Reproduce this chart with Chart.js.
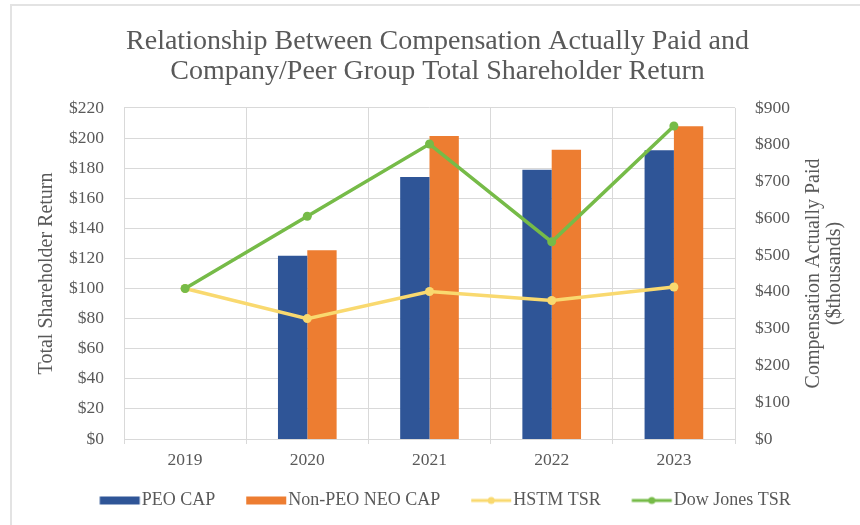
<!DOCTYPE html>
<html>
<head>
<meta charset="utf-8">
<script src="https://cdn.jsdelivr.net/npm/chart.js@4/dist/chart.umd.min.js"></script>
<style>
  html, body { margin: 0; padding: 0; background: #fff; }
  #wrap { position: relative; width: 860px; height: 525px; }
  #frame { position: absolute; left: 10px; top: 4px; right: 0; bottom: 0;
           border-top: 2px solid #e3e3e3; border-left: 2px solid #e3e3e3; pointer-events: none; }
</style>
</head>
<body>
<div id="wrap">
  <canvas id="chart" width="860" height="525"></canvas>
  <div id="frame"></div>
</div>
<script>
// data
const years = ['2019', '2020', '2021', '2022', '2023'];
const peoCap = [null, 498, 712, 732, 785];      // $ thousands, right axis
const nonPeoCap = [null, 513, 824, 786, 850];   // $ thousands, right axis
const hstmTsr = [100, 80, 98, 92, 101];         // left axis
const dowTsr = [100, 148, 196, 131, 208];       // left axis

const seriesNames = ['PEO CAP', 'Non-PEO NEO CAP', 'HSTM TSR', 'Dow Jones TSR'];
const titleLines = ['Relationship Between Compensation Actually Paid and',
                    'Company/Peer Group Total Shareholder Return'];
const leftTitle = 'Total Shareholder Return';
const rightTitle = ['Compensation Actually Paid', '($thousands)'];

const BLUE = '#2F5597', ORANGE = '#ED7D31', YELLOW = '#F9D96F', GREEN = '#76BB48';
const GREY = '#595959', GRID = '#D9D9D9';
const SERIF = "'Liberation Serif', 'Times New Roman', serif";

// legend icons (box or line with marker); the blank left part of the
// canvas gives the gap between legend entries
const ICON_BOX = 48.5;
function makeIcon(kind, color) {
  const c = document.createElement('canvas');
  c.width = 100; c.height = 14;
  const g = c.getContext('2d');
  const x0 = 50 - ICON_BOX / 2 + (ICON_BOX - 33);  // where the mark starts
  if (kind === 'bar') {
    g.fillStyle = color;
    g.fillRect(x0, 3, 40, 8);
  } else {
    g.strokeStyle = color; g.lineWidth = 3;
    g.beginPath(); g.moveTo(x0, 7); g.lineTo(x0 + 40, 7); g.stroke();
    g.fillStyle = color;
    g.beginPath(); g.arc(x0 + 20, 7, 3.5, 0, Math.PI * 2); g.fill();
  }
  return c;
}
const icons = [makeIcon('bar', BLUE), makeIcon('bar', ORANGE), makeIcon('line', YELLOW), makeIcon('line', GREEN)];

// right axis title reads bottom to top, like the left one
const sideTitle = {
  id: 'sideTitle',
  afterDraw(chart) {
    const { ctx, chartArea } = chart;
    const cy = (chartArea.top + chartArea.bottom) / 2;
    ctx.save();
    ctx.font = '20px ' + SERIF;
    ctx.fillStyle = GREY;
    ctx.textAlign = 'center';
    ctx.textBaseline = 'middle';
    rightTitle.forEach((t, i) => {
      ctx.save();
      ctx.translate(814 + i * 21, cy);
      ctx.rotate(-Math.PI / 2);
      ctx.fillText(t, 0, 0);
      ctx.restore();
    });
    ctx.restore();
  }
};

new Chart(document.getElementById('chart'), {
  type: 'bar',
  data: {
    labels: years,
    datasets: [
      { label: seriesNames[0], data: peoCap, backgroundColor: BLUE, yAxisID: 'y2', order: 1 },
      { label: seriesNames[1], data: nonPeoCap, backgroundColor: ORANGE, yAxisID: 'y2', order: 1 },
      { type: 'line', label: seriesNames[2], data: hstmTsr, borderColor: YELLOW, backgroundColor: YELLOW,
        borderWidth: 3.5, pointRadius: 4.5, pointBorderWidth: 0, yAxisID: 'y', order: 0 },
      { type: 'line', label: seriesNames[3], data: dowTsr, borderColor: GREEN, backgroundColor: GREEN,
        borderWidth: 3.5, pointRadius: 4.5, pointBorderWidth: 0, yAxisID: 'y', order: -1 }
    ]
  },
  options: {
    responsive: false,
    animation: false,
    layout: { padding: { left: 15, right: 0, top: 0, bottom: 5.5 } },
    datasets: { bar: { categoryPercentage: 0.48, barPercentage: 1 } },
    plugins: {
      tooltip: { enabled: false },
      title: {
        display: true,
        text: titleLines,
        color: GREY,
        font: { family: SERIF, size: 28, weight: 'normal', lineHeight: 1.07 },
        padding: { top: 27, bottom: 21 }
      },
      legend: {
        position: 'bottom',
        labels: {
          color: GREY,
          font: { family: SERIF, size: 18 },
          usePointStyle: true,
          pointStyleWidth: ICON_BOX,
          padding: 15.5,
          generateLabels(chart) {
            const items = Chart.defaults.plugins.legend.labels.generateLabels(chart);
            items.sort((a, b) => a.datasetIndex - b.datasetIndex);
            items.forEach(it => { it.pointStyle = icons[it.datasetIndex]; });
            return items;
          }
        }
      }
    },
    scales: {
      x: {
        grid: { color: GRID, offset: true, drawTicks: true, tickLength: 5 },
        border: { color: GRID },
        ticks: { color: GREY, font: { family: SERIF, size: 17.5 }, padding: 5.5 }
      },
      y: {
        position: 'left',
        min: 0, max: 220,
        afterFit(s) { s.width = 109; },
        grid: { color: GRID, drawTicks: false },
        border: { display: false },
        ticks: { stepSize: 20, padding: 20, color: GREY, font: { family: SERIF, size: 17.5 },
                 callback: v => '$' + v },
        title: { display: true, text: leftTitle, color: GREY,
                 font: { family: SERIF, size: 20 }, padding: { top: 20, bottom: 0 } }
      },
      y2: {
        position: 'right',
        min: 0, max: 900,
        afterFit(s) { s.width = 125; },
        grid: { display: false, drawTicks: false },
        border: { display: false },
        ticks: { stepSize: 100, padding: 20, color: GREY, font: { family: SERIF, size: 17.5 },
                 callback: v => '$' + v }
      }
    }
  },
  plugins: [sideTitle]
});
</script>
</body>
</html>
